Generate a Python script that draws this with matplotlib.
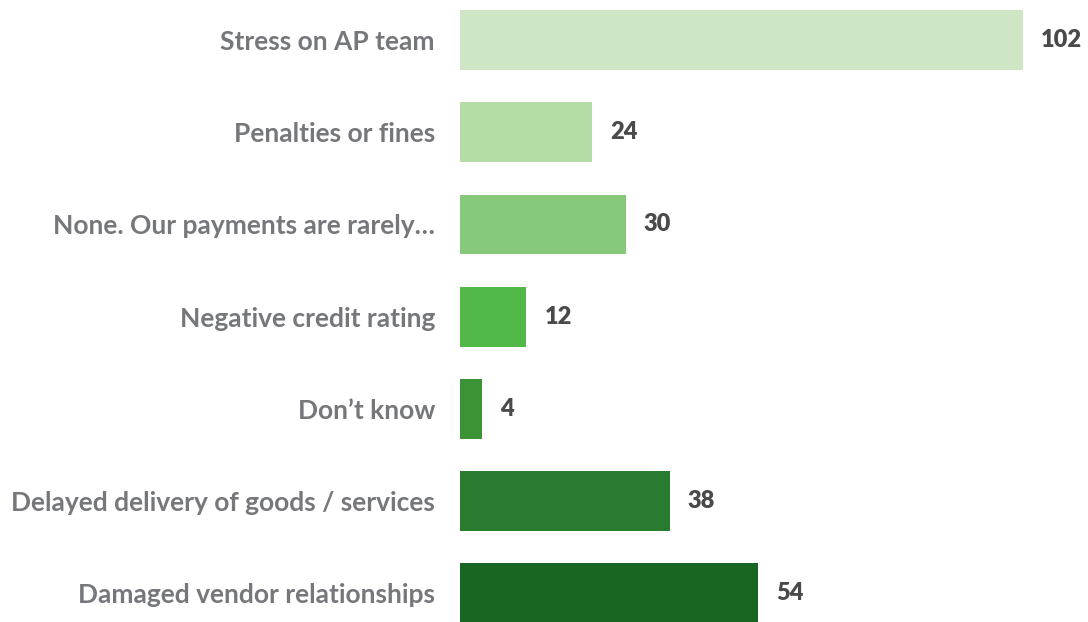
import matplotlib
matplotlib.use("Agg")
import matplotlib.pyplot as plt

categories = [
    "Stress on AP team",
    "Penalties or fines",
    "None. Our payments are rarely\u2026",
    "Negative credit rating",
    "Don\u2019t know",
    "Delayed delivery of goods / services",
    "Damaged vendor relationships",
]
values = [102, 24, 30, 12, 4, 38, 54]
colors = ["#cfe6c5", "#b3dca6", "#86c97a", "#52b848", "#3b9336", "#297c2f", "#196622"]

plt.rcParams["font.family"] = ["Lato", "DejaVu Sans"]

fig = plt.figure(figsize=(10.88, 6.22), dpi=100)
ax = fig.add_axes([460 / 1088, 0, 1 - 460 / 1088, 1])

y = list(range(len(categories)))
ax.barh(y, values, height=0.65, color=colors)

# value labels just past the end of each bar
for yi, v in zip(y, values):
    ax.text(v + 3.3, yi, str(v), va="center", ha="left",
            fontsize=17, fontweight="heavy", color="#4a4a4a")

ax.set_xlim(0, 113.8)
ax.set_ylim(6.31, -0.434)
ax.set_yticks(y)
ax.set_yticklabels(categories, fontsize=19, fontweight="bold", color="#75777a")
ax.tick_params(axis="y", length=0, pad=18)
ax.set_xticks([])
for s in ax.spines.values():
    s.set_visible(False)

fig.savefig("out.png", dpi=100)
